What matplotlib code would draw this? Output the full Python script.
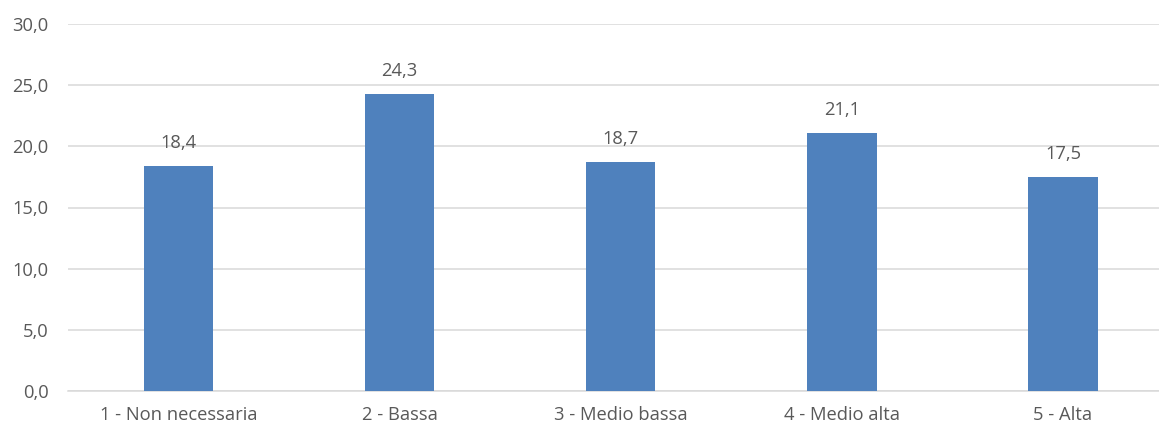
import matplotlib.pyplot as plt

categories = ['1 - Non necessaria', '2 - Bassa', '3 - Medio bassa', '4 - Medio alta', '5 - Alta']
values = [18.4, 24.3, 18.7, 21.1, 17.5]
yticks = [0, 5, 10, 15, 20, 25, 30]

text_color = '#595959'
plt.rcParams['font.family'] = ['Open Sans', 'DejaVu Sans']

fig = plt.figure(figsize=(11.59, 4.26), dpi=100)
ax = fig.add_axes([68 / 1159, 35 / 426, (1159 - 68) / 1159, (391 - 24) / 426])

x = list(range(len(categories)))
bars = ax.bar(x, values, width=0.314, color='#4F81BD', zorder=3)

for xi, v in zip(x, values):
    ax.annotate(f'{v:.1f}'.replace('.', ','), (xi, v), xytext=(0, 10),
                textcoords='offset points', ha='center', va='bottom',
                fontsize=13.2, color=text_color)

ax.set_xlim(-0.5, 4 + (1159 - 1063) / 221.1)
ax.set_ylim(0, 30)
ax.set_yticks(yticks)
ax.set_yticklabels([f'{t:.1f}'.replace('.', ',') for t in yticks])
ax.set_xticks(x)
ax.set_xticklabels(categories)

ax.grid(axis='y', color='#d9d9d9', linewidth=1.1, zorder=0)
ax.set_axisbelow(True)
for s in ['top', 'right', 'left']:
    ax.spines[s].set_visible(False)
ax.spines['bottom'].set_color('#d9d9d9')
ax.spines['bottom'].set_linewidth(1.1)
ax.tick_params(axis='both', length=0, labelsize=13.2, labelcolor=text_color)
ax.tick_params(axis='y', pad=14)
ax.tick_params(axis='x', pad=11)

plt.savefig('out.png', dpi=100)
